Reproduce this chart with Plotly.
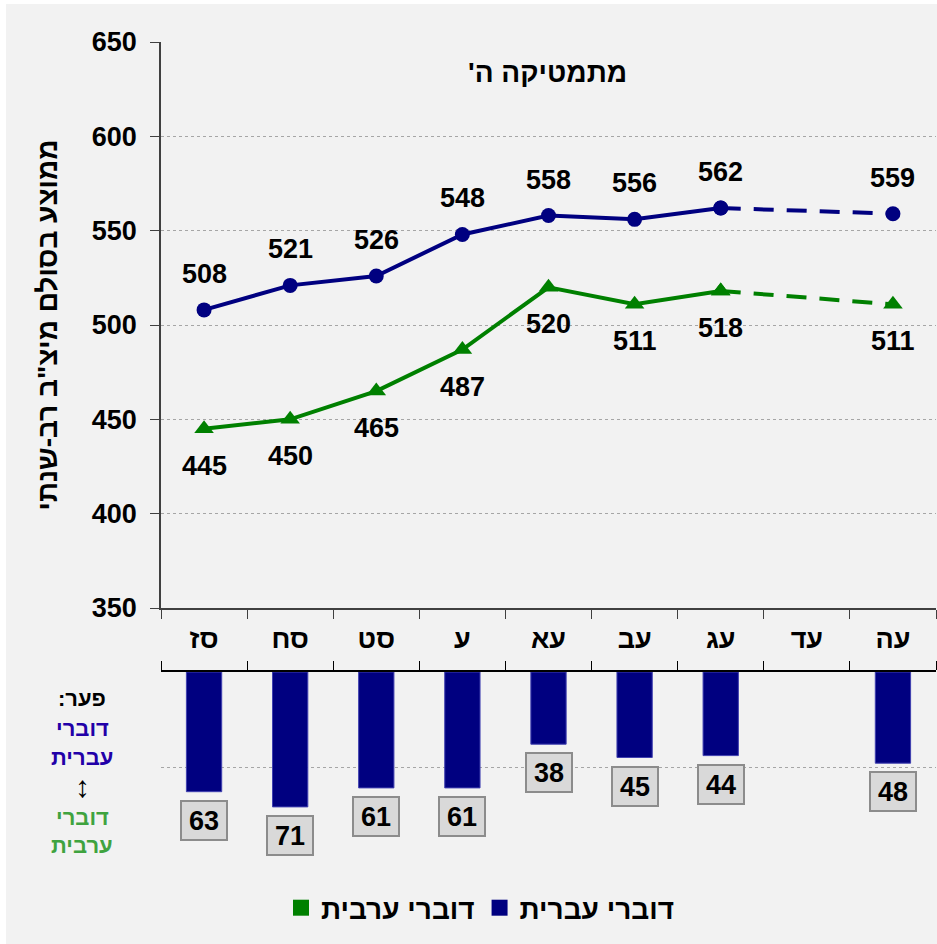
import plotly.graph_objects as go

# ---------------- data ----------------
categories = ["סז", "סח", "סט", "ע", "עא", "עב", "עג", "עד", "עה"]
hebrew = [508, 521, 526, 548, 558, 556, 562, None, 559]
arabic = [445, 450, 465, 487, 520, 511, 518, None, 511]
gap = [63, 71, 61, 61, 38, 45, 44, None, 48]
y_ticks = [350, 400, 450, 500, 550, 600, 650]

RLM = "\u200F"
title_text = "מתמטיקה ה'" + RLM
y_title = 'ממוצע בסולם מיצ"ב רב-שנתי'
name_heb = "דוברי עברית"
name_arb = "דוברי ערבית"
side_lines = ["פער:" + RLM, "דוברי", "עברית", "↕", "דוברי", "ערבית"]

# ---------------- style ----------------
FONT = "Arial, 'Liberation Sans', sans-serif"
NAVY = "#000080"
GREEN = "#008000"
BG = "#f2f2f2"
W, H = 937, 944
L, R, T, B = 161, 1, 42, 82
PH = H - T - B  # plot height in px


def py(px):  # pixel y -> paper y
    return (H - B - px) / PH


def pxx(px):  # pixel x -> paper x
    return (px - L) / (W - L - R)


fig = go.Figure()

n_solid = 7
fig.add_trace(go.Scatter(
    x=categories[:n_solid], y=hebrew[:n_solid], mode="lines+markers",
    line=dict(color=NAVY, width=4), marker=dict(symbol="circle", size=15, color=NAVY),
    showlegend=False, xaxis="x", yaxis="y"))
fig.add_trace(go.Scatter(
    x=categories[:n_solid], y=arabic[:n_solid], mode="lines+markers",
    line=dict(color=GREEN, width=4), marker=dict(symbol="triangle-up", size=17, color=GREEN),
    showlegend=False, xaxis="x", yaxis="y"))
fig.add_trace(go.Scatter(
    x=[categories[6], categories[8]], y=[hebrew[6], hebrew[8]], mode="lines+markers",
    line=dict(color=NAVY, width=4, dash="20px,13px"),
    marker=dict(symbol="circle", size=15, color=NAVY),
    showlegend=False, xaxis="x", yaxis="y"))
fig.add_trace(go.Scatter(
    x=[categories[6], categories[8]], y=[arabic[6], arabic[8]], mode="lines+markers",
    line=dict(color=GREEN, width=4, dash="20px,13px"),
    marker=dict(symbol="triangle-up", size=17, color=GREEN),
    showlegend=False, xaxis="x", yaxis="y"))

fig.add_trace(go.Bar(
    x=categories, y=gap, width=0.41,
    marker=dict(color=NAVY, line=dict(color="#4040b0", width=1)),
    showlegend=False, xaxis="x2", yaxis="y2"))

fig.add_trace(go.Scatter(x=[None], y=[None], mode="markers", name=name_arb,
                         marker=dict(symbol="square", size=16, color=GREEN)))
fig.add_trace(go.Scatter(x=[None], y=[None], mode="markers", name=name_heb,
                         marker=dict(symbol="square", size=16, color=NAVY)))

annotations = []
lab_font = dict(family=FONT, size=27, color="black", weight="bold")
for c, v in zip(categories, hebrew):
    if v is not None:
        annotations.append(dict(x=c, y=v, xref="x", yref="y", text=str(v), showarrow=False,
                                xanchor="center", yanchor="middle", yshift=36, font=lab_font))
for c, v in zip(categories, arabic):
    if v is not None:
        annotations.append(dict(x=c, y=v, xref="x", yref="y", text=str(v), showarrow=False,
                                xanchor="center", yanchor="middle", yshift=-37, font=lab_font))
for c, v in zip(categories, gap):
    if v is not None:
        annotations.append(dict(x=c, y=v, xref="x2", yref="y2", text=str(v), showarrow=False,
                                xanchor="center", yanchor="top", yshift=-8, font=lab_font,
                                bgcolor="#d9d9d9", bordercolor="#8c8c8c", borderwidth=2,
                                borderpad=3, width=38, height=31))

annotations.append(dict(x=pxx(547), y=py(72), xref="paper", yref="paper", text=title_text,
                        showarrow=False, xanchor="center", yanchor="middle",
                        font=dict(family=FONT, size=28, color="black", weight="bold")))

# side "gap" key, one annotation per line
side_y = [698, 728, 757, 786, 817, 845]
side_colors = ["black", "#2200A8", "#2200A8", "black", "#3FA33F", "#3FA33F"]
side_sizes = [22, 22, 22, 30, 22, 22]
for txt, yy, col, sz in zip(side_lines, side_y, side_colors, side_sizes):
    annotations.append(dict(x=pxx(82), y=py(yy), xref="paper", yref="paper", text=txt,
                            showarrow=False, xanchor="center", yanchor="middle",
                            font=dict(family=FONT, size=sz, color=col, weight="bold")))

axis_font = dict(family=FONT, size=27, color="black", weight="bold")

fig.update_layout(
    width=W, height=H, margin=dict(l=L, r=R, t=T, b=B),
    paper_bgcolor="white", plot_bgcolor=BG,
    font=dict(family=FONT),
    xaxis=dict(domain=[0, 1], anchor="y", type="category", range=[-0.5, 8.5],
               categoryorder="array", categoryarray=categories,
               showline=True, linecolor="#404040", linewidth=1.5,
               ticks="outside", tickson="boundaries", ticklen=9, tickcolor="#404040",
               tickfont=axis_font, ticklabelstandoff=6, showgrid=False, automargin=False),
    yaxis=dict(domain=[py(608), 1], anchor="x", range=[350, 650], tickvals=y_ticks,
               showline=True, linecolor="#404040", linewidth=1.5,
               ticks="outside", ticklen=9, tickcolor="#404040",
               tickfont=axis_font, ticklabelstandoff=8,
               showgrid=True, gridcolor="#a6a6a6", griddash="dot", gridwidth=1,
               zeroline=False, automargin=False,
               title=dict(text=y_title, standoff=26,
                          font=dict(family=FONT, size=28, color="black", weight="bold"))),
    xaxis2=dict(domain=[0, 1], anchor="y2", side="top", type="category", range=[-0.5, 8.5],
                categoryorder="array", categoryarray=categories, matches="x",
                showline=True, linecolor="black", linewidth=1.5,
                ticks="outside", tickson="boundaries", ticklen=9, tickcolor="black",
                showticklabels=False, showgrid=False, automargin=False),
    yaxis2=dict(domain=[0, py(672)], anchor="x2", range=[100, 0], tickvals=[0, 50, 100],
                showline=False, showticklabels=False, ticks="",
                showgrid=True, gridcolor="#a6a6a6", griddash="dot", gridwidth=1,
                zeroline=False, automargin=False),
    legend=dict(orientation="h", x=pxx(480), xanchor="center", y=py(908), yanchor="middle",
                font=dict(family=FONT, size=28, color="black", weight="bold"),
                bgcolor="rgba(0,0,0,0)", traceorder="normal"),
    annotations=annotations,
    shapes=[dict(type="rect", xref="paper", yref="paper", x0=pxx(6), x1=pxx(W + 5),
                 y0=py(H + 5), y1=py(4), fillcolor=BG, line=dict(width=0), layer="below")],
)

fig.write_html("out.html", config={"displayModeBar": False},
               post_script="document.body.style.margin='0px';")
